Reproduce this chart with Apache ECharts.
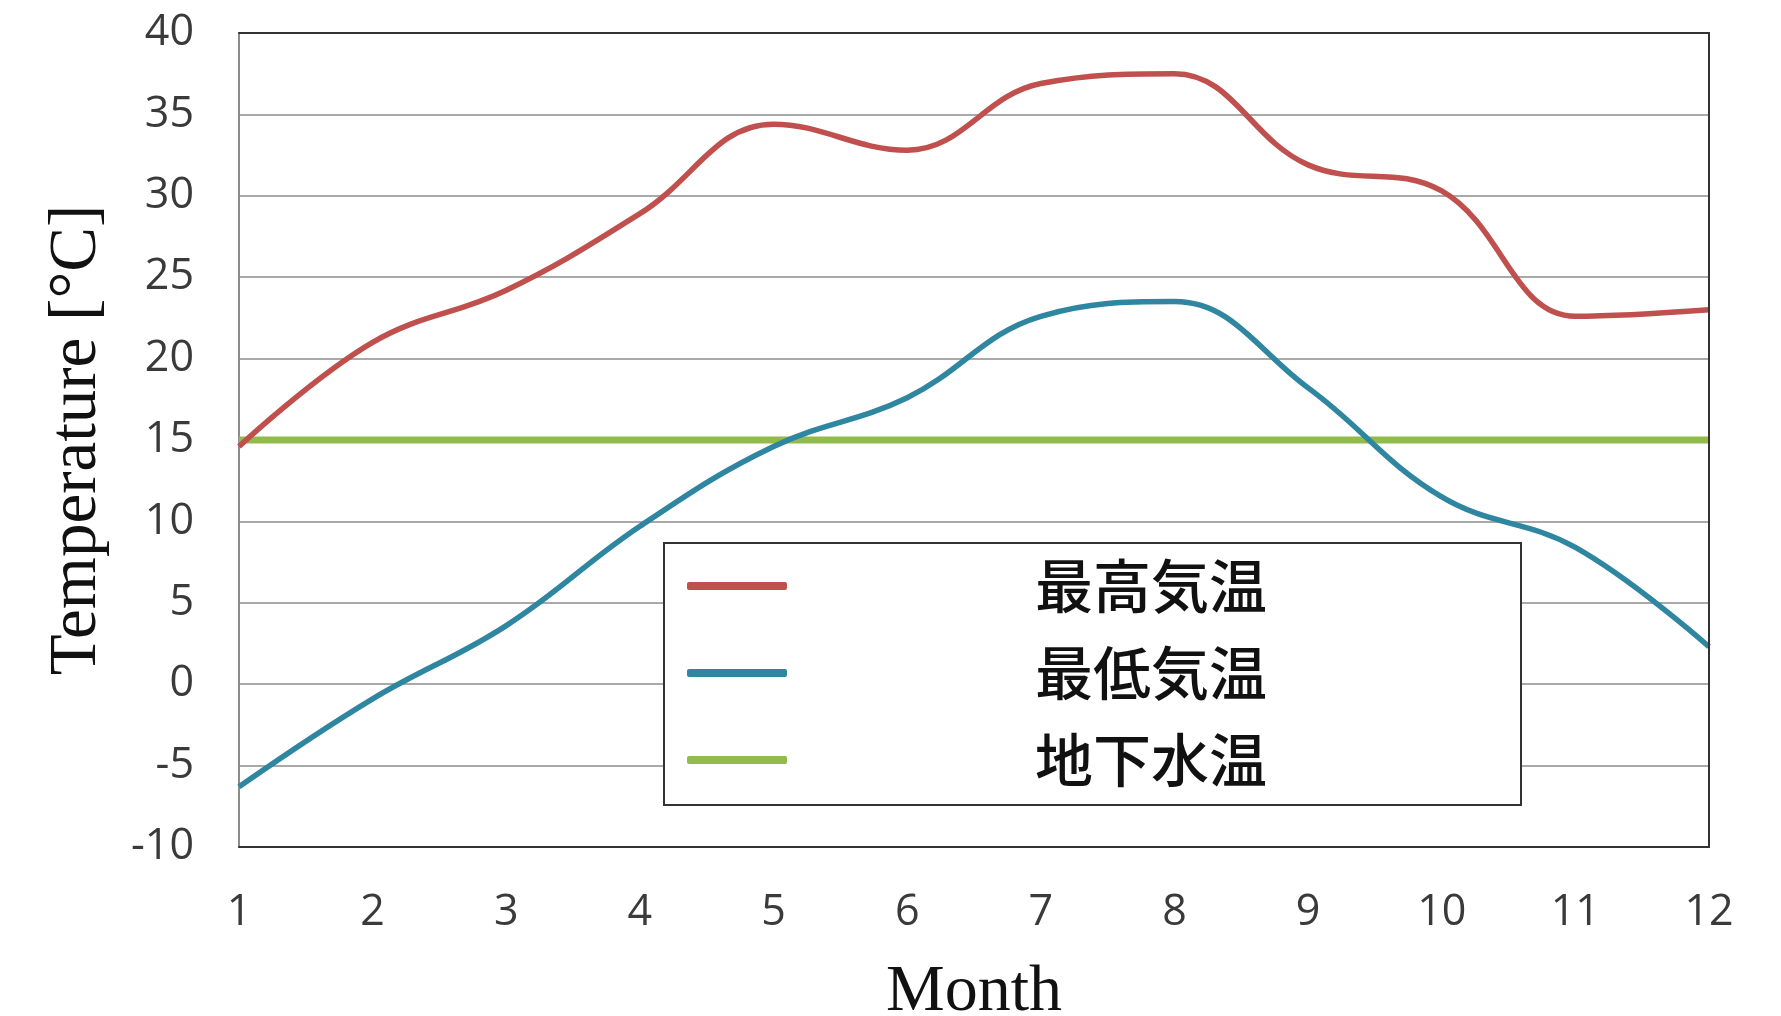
<!DOCTYPE html>
<html>
<head>
<meta charset="utf-8">
<title>月別気温と地下水温</title>
<script src="https://cdn.jsdelivr.net/npm/echarts@6/dist/echarts.min.js"></script>
<style>
  html, body { margin: 0; padding: 0; background: #ffffff; }
  #chart { width: 1781px; height: 1016px; }
</style>
</head>
<body>
<div id="chart"></div>
<script>
// Months on the horizontal axis
const months = ['1', '2', '3', '4', '5', '6', '7', '8', '9', '10', '11', '12'];

// Monthly temperatures [°C]
const maxTemp = [14.6, 21.0, 24.2, 28.9, 34.4, 32.8, 36.9, 37.5, 31.9, 30.3, 22.6, 23.0];
const minTemp = [-6.3, -0.9, 3.6, 9.7, 14.6, 17.6, 22.6, 23.5, 18.2, 11.5, 8.4, 2.3];
const groundwaterTemp = [15, 15, 15, 15, 15, 15, 15, 15, 15, 15, 15, 15];

// Series names (legend labels)
const seriesNames = ['最高気温', '最低気温', '地下水温'];
const seriesColors = ['#C0504D', '#2F86A1', '#92BB4B'];

// Temperature axis range
const yMin = -10, yMax = 40, yStep = 5;

const chart = echarts.init(document.getElementById('chart'), null, { renderer: 'canvas' });

const tickFont = { fontFamily: 'Open Sans', fontSize: 43, color: '#3a3a3a' };
const serifFont = 'Liberation Serif';

chart.setOption({
  animation: false,
  backgroundColor: '#ffffff',
  grid: { left: 239, right: 72, top: 33, bottom: 169, containLabel: false, outerBoundsMode: 'none' },
  xAxis: [
    {
      type: 'category',
      data: months,
      boundaryGap: false,
      position: 'bottom',
      axisLine: { show: true, onZero: false, lineStyle: { color: '#333333', width: 2 } },
      axisTick: { show: false },
      axisLabel: Object.assign({ margin: 44 }, tickFont),
      splitLine: { show: false },
      name: 'Month',
      nameLocation: 'middle',
      nameGap: 113,
      nameTextStyle: { fontFamily: serifFont, fontSize: 66, color: '#111111' }
    },
    {
      type: 'category',
      data: months,
      boundaryGap: false,
      position: 'top',
      z: 5,
      axisLine: { show: true, onZero: false, lineStyle: { color: '#333333', width: 2 } },
      axisTick: { show: false },
      axisLabel: { show: false },
      splitLine: { show: false }
    }
  ],
  yAxis: [
    {
      type: 'value',
      min: yMin,
      max: yMax,
      interval: yStep,
      position: 'left',
      axisLine: { show: true, onZero: false, lineStyle: { color: '#8c8c8c', width: 2 } },
      axisTick: { show: false },
      axisLabel: Object.assign({ margin: 45 }, tickFont),
      splitLine: { show: true, lineStyle: { color: '#a9a9a9', width: 2 } },
      name: 'Temperature [°C]',
      nameLocation: 'middle',
      nameRotate: 90,
      nameGap: 128,
      nameTextStyle: { fontFamily: serifFont, fontSize: 67, color: '#111111' }
    },
    {
      type: 'value',
      min: yMin,
      max: yMax,
      interval: yStep,
      position: 'right',
      z: 5,
      axisLine: { show: true, onZero: false, lineStyle: { color: '#333333', width: 2 } },
      axisTick: { show: false },
      axisLabel: { show: false },
      splitLine: { show: false }
    }
  ],
  legend: {
    orient: 'vertical',
    left: 664,
    top: 543,
    padding: [14, 11, 16, 23],
    itemGap: 29,
    itemWidth: 100,
    itemHeight: 8,
    icon: 'roundRect',
    backgroundColor: '#ffffff',
    borderColor: '#333333',
    borderWidth: 2,
    borderRadius: 0,
    data: seriesNames,
    formatter: name => '{t|' + name + '}',
    textStyle: {
      rich: {
        t: {
          width: 718,
          align: 'center',
          lineHeight: 60,
          fontFamily: 'Noto Sans CJK JP',
          fontSize: 58,
          fontWeight: 500,
          color: '#111111'
        }
      }
    }
  },
  series: [
    {
      name: seriesNames[0],
      type: 'line',
      data: maxTemp,
      smooth: 0.4,
      symbol: 'none',
      lineStyle: { color: seriesColors[0], width: 5.5 },
      itemStyle: { color: seriesColors[0] },
      z: 3
    },
    {
      name: seriesNames[1],
      type: 'line',
      data: minTemp,
      smooth: 0.4,
      symbol: 'none',
      lineStyle: { color: seriesColors[1], width: 5.5 },
      itemStyle: { color: seriesColors[1] },
      z: 3
    },
    {
      name: seriesNames[2],
      type: 'line',
      data: groundwaterTemp,
      symbol: 'none',
      lineStyle: { color: seriesColors[2], width: 7 },
      itemStyle: { color: seriesColors[2] },
      z: 2
    }
  ]
});
</script>
</body>
</html>
